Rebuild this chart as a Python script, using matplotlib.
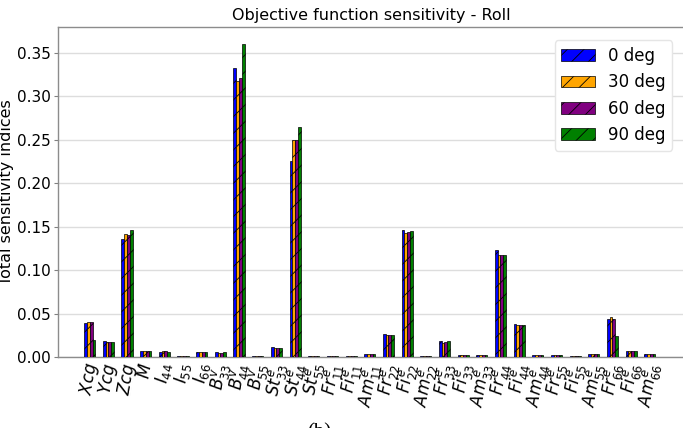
import matplotlib
matplotlib.use("Agg")
import matplotlib.pyplot as plt
import numpy as np

categories = [r"$Xcg$", r"$Ycg$", r"$Zcg$", r"$M$", r"$I_{44}$", r"$I_{55}$", r"$I_{66}$",
              r"$B^v_{33}$", r"$B^v_{44}$", r"$B^v_{55}$",
              r"$St^e_{33}$", r"$St^e_{44}$", r"$St^e_{55}$",
              r"$Fr^e_{11}$", r"$Fi^e_{11}$", r"$Am^e_{11}$",
              r"$Fr^e_{22}$", r"$Fi^e_{22}$", r"$Am^e_{22}$",
              r"$Fr^e_{33}$", r"$Fi^e_{33}$", r"$Am^e_{33}$",
              r"$Fr^e_{44}$", r"$Fi^e_{44}$", r"$Am^e_{44}$",
              r"$Fr^e_{55}$", r"$Fi^e_{55}$", r"$Am^e_{55}$",
              r"$Fr^e_{66}$", r"$Fi^e_{66}$", r"$Am^e_{66}$"]

deg0 = [0.0388, 0.0184, 0.1355, 0.0065, 0.0062, 0.0008, 0.0055, 0.0054, 0.333, 0.0008,
        0.0115, 0.226, 0.0008, 0.0008, 0.0010, 0.0036, 0.0265, 0.1462, 0.0010,
        0.0184, 0.0026, 0.0025, 0.1232, 0.0380, 0.0025, 0.0025, 0.0010, 0.0030,
        0.0434, 0.0065, 0.0035]
deg30 = [0.0407, 0.0170, 0.1412, 0.0072, 0.0065, 0.0008, 0.0055, 0.0046, 0.3178, 0.0008,
         0.0104, 0.2498, 0.0008, 0.0008, 0.0010, 0.0036, 0.0253, 0.1424, 0.0010,
         0.0165, 0.0026, 0.0025, 0.1174, 0.0369, 0.0025, 0.0025, 0.0010, 0.0030,
         0.0457, 0.0065, 0.0035]
deg60 = [0.0400, 0.0170, 0.1400, 0.0072, 0.0065, 0.0008, 0.0055, 0.0046, 0.3216, 0.0008,
         0.0104, 0.2498, 0.0008, 0.0008, 0.0010, 0.0036, 0.0253, 0.1435, 0.0010,
         0.0170, 0.0026, 0.0025, 0.1174, 0.0369, 0.0025, 0.0025, 0.0010, 0.0030,
         0.0438, 0.0065, 0.0033]
deg90 = [0.0196, 0.0177, 0.1466, 0.0065, 0.0062, 0.0008, 0.0055, 0.0057, 0.361, 0.0008,
         0.0104, 0.265, 0.0008, 0.0008, 0.0016, 0.0033, 0.0250, 0.1450, 0.0010,
         0.0184, 0.0026, 0.0025, 0.1174, 0.0369, 0.0025, 0.0025, 0.0010, 0.0030,
         0.0242, 0.0065, 0.0030]

series = [("0 deg", deg0, "blue"), ("30 deg", deg30, "orange"),
          ("60 deg", deg60, "purple"), ("90 deg", deg90, "green")]

plt.rcParams['font.family'] = ['DejaVu Sans']
plt.rcParams['hatch.linewidth'] = 0.6

fig = plt.figure(figsize=(6.83, 4.28), dpi=100)
ax = fig.add_axes([58/683, 71/428, 627/683, 330/428])

x = np.arange(len(categories))
w = 0.15
for i, (lab, vals, col) in enumerate(series):
    ax.bar(x + (i - 1.5) * w, vals, width=w, color=col, edgecolor='black',
           linewidth=0.5, hatch='//', label=lab, zorder=3)

ax.set_xlim(-1.7, -1.7 + 627/18.67)
ax.set_ylim(0, 0.38)
ax.set_yticks([0, 0.05, 0.10, 0.15, 0.20, 0.25, 0.30, 0.35])
ax.set_yticklabels(["0.00", "0.05", "0.10", "0.15", "0.20", "0.25", "0.30", "0.35"], fontsize=11)
ax.set_xticks(x)
ax.set_xticklabels(categories, rotation=80, fontsize=12)
ax.tick_params(axis='x', length=0, pad=3)
ax.tick_params(axis='y', length=3, color='0.5', pad=2)
ax.grid(axis='y', color='#dddddd', linewidth=1, zorder=0)
for s in ax.spines.values():
    s.set_color('0.55')
    s.set_linewidth(1)
ax.set_ylabel("Total sensitivity indices", fontsize=11.5, labelpad=2)
ax.set_title("Objective function sensitivity - Roll", fontsize=11.5, pad=5)
ax.legend(loc='upper right', bbox_to_anchor=(0.993, 0.985), fontsize=12,
          handlelength=2.0, framealpha=1, edgecolor='#e5e5e5')

fig.text(0.468, 0.012, "(b)", fontsize=15, family='Liberation Serif', va='top', ha='center')

fig.savefig("out.png", dpi=100)
